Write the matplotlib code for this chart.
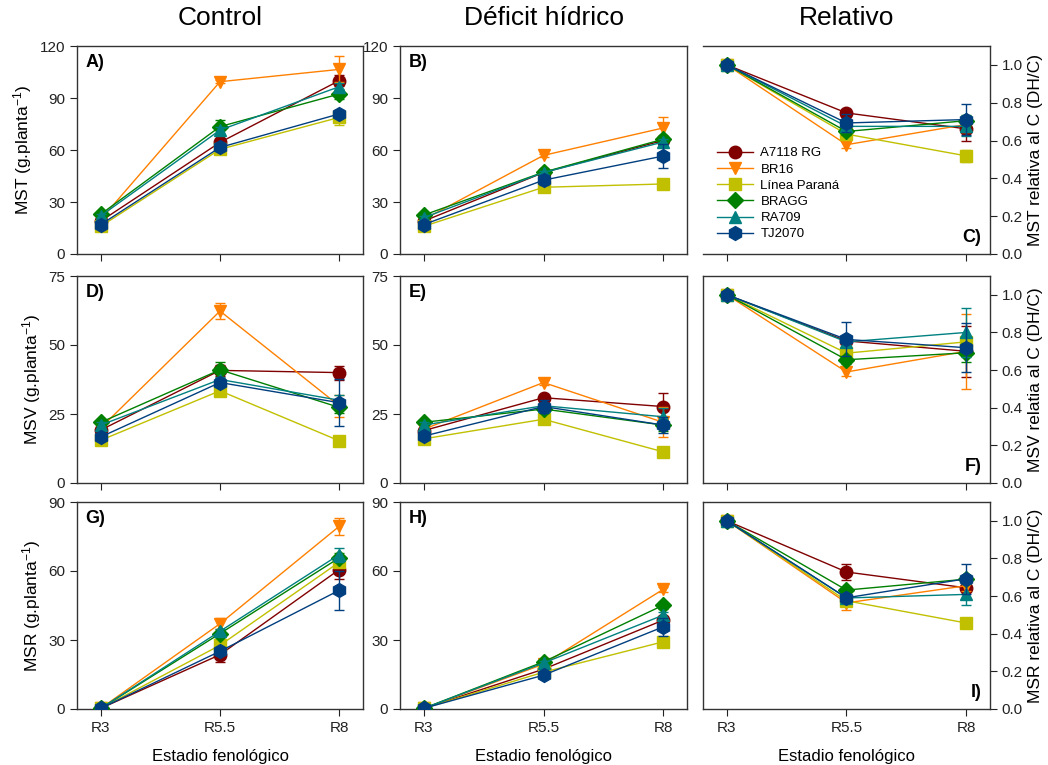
import matplotlib.pyplot as plt
from matplotlib.ticker import FormatStrFormatter

plt.rcParams['font.family'] = ['Liberation Sans', 'DejaVu Sans']
plt.rcParams['mathtext.default'] = 'regular'

stages = ['R3', 'R5.5', 'R8']
cultivars = ['A7118 RG', 'BR16', 'Línea Paraná', 'BRAGG', 'RA709', 'TJ2070']
colors = ['#800000', '#FF8000', '#C0C000', '#008000', '#008080', '#003F7F']
markers = ['o', 'v', 's', 'D', '^', 'h']
msizes = [9, 9, 8.5, 8, 9, 10]

# MST control / deficit / relative (one row per cultivar, R3, R5.5, R8)
mst_c = [[19, 64.4, 100], [20, 99.4, 106.5], [16, 60.4, 78.8],
         [23, 73.5, 92.3], [22, 71.5, 96.5], [17, 61.5, 80.8]]
mst_c_err = [[1, 2, 3], [1, 1, 7.5], [1, 2, 4.5],
             [1, 4, 3], [1, 2, 2], [1, 2, 2]]
mst_d = [[19, 47, 65.5], [20, 56.9, 72.7], [16, 38.5, 40.4],
         [22.5, 47.2, 66.2], [21, 47, 64.6], [17, 42.6, 56.5]]
mst_d_err = [[1, 1, 2], [1, 1, 6.6], [1, 1, 1],
             [1, 1, 2], [1, 1, 2], [1, 3, 7]]
mst_r = [[1, 0.746, 0.662], [1, 0.578, 0.685], [1, 0.634, 0.519],
         [1, 0.648, 0.705], [1, 0.675, 0.675], [1, 0.693, 0.711]]
mst_r_err = [[0, 0.02, 0.065], [0, 0.015, 0.04], [0, 0.015, 0.03],
             [0, 0.02, 0.03], [0, 0.02, 0.05], [0, 0.05, 0.08]]

# MSV
msv_c = [[19.2, 40.8, 40], [20, 62.3, 28], [15.5, 33.4, 15.3],
         [22, 41, 27.4], [21, 37.5, 30], [16.7, 36.4, 29.1]]
msv_c_err = [[1, 2, 2.5], [1, 3, 4], [0.5, 1, 0.5],
             [1, 3, 2], [1, 1, 2], [1, 1.5, 8.5]]
msv_d = [[19, 30.9, 27.7], [19.5, 36.4, 22], [16, 23.1, 11.3],
         [22, 26.8, 21], [21, 28, 24], [17, 27.7, 21]]
msv_d_err = [[1, 1, 4.8], [1, 1, 5.5], [0.5, 1, 0.5],
             [1, 1, 2], [1, 1, 3], [1, 2.5, 3]]
msv_r = [[1, 0.755, 0.70], [1, 0.59, 0.70], [1, 0.69, 0.75],
         [1, 0.655, 0.692], [1, 0.75, 0.80], [1, 0.763, 0.719]]
msv_r_err = [[0, 0.02, 0.135], [0, 0.02, 0.20], [0, 0.04, 0.02],
             [0, 0.02, 0.05], [0, 0.02, 0.13], [0, 0.09, 0.13]]

# MSR
msr_c = [[0.3, 23.6, 60.6], [0.3, 37.1, 79.4], [0.3, 27.7, 63.8],
         [0.3, 32.8, 65.7], [0.3, 33.8, 67.1], [0.3, 25.1, 51.6]]
msr_c_err = [[0, 3, 4], [0, 2.5, 3.6], [0, 1, 2],
             [0, 1, 2], [0, 1, 3], [0, 1.5, 8.4]]
msr_d = [[0.3, 17.3, 38.6], [0.3, 19.5, 52], [0.3, 16, 29.2],
         [0.3, 20.5, 45.1], [0.3, 20, 40.8], [0.3, 14.7, 35.7]]
msr_d_err = [[0, 1, 2], [0, 1, 1], [0, 0.5, 1],
             [0, 1, 1.5], [0, 1, 1.5], [0, 1, 4]]
msr_r = [[1, 0.728, 0.644], [1, 0.564, 0.655], [1, 0.575, 0.457],
         [1, 0.632, 0.69], [1, 0.59, 0.609], [1, 0.591, 0.692]]
msr_r_err = [[0, 0.04, 0.02], [0, 0.04, 0.03], [0, 0.01, 0.01],
             [0, 0.015, 0.02], [0, 0.02, 0.055], [0, 0.02, 0.08]]

panels = [
    [(mst_c, mst_c_err), (mst_d, mst_d_err), (mst_r, mst_r_err)],
    [(msv_c, msv_c_err), (msv_d, msv_d_err), (msv_r, msv_r_err)],
    [(msr_c, msr_c_err), (msr_d, msr_d_err), (msr_r, msr_r_err)],
]
letters = [['A)', 'B)', 'C)'], ['D)', 'E)', 'F)'], ['G)', 'H)', 'I)']]
left_labels = ['MST (g.planta$^{-1}$)', 'MSV (g.planta$^{-1}$)', 'MSR (g.planta$^{-1}$)']
right_labels = ['MST relativa al C (DH/C)', 'MSV relatia al C (DH/C)', 'MSR relativa al C (DH/C)']
ymax = [120, 75, 90]
ystep = [30, 25, 30]
titles = ['Control', 'Déficit hídrico', 'Relativo']

W, H = 1048, 765
cols = [(77, 363), (400, 687), (703, 990)]
rows = [(46, 254), (276, 483), (502, 709)]

fig = plt.figure(figsize=(W / 100, H / 100), dpi=100)
x = list(range(len(stages)))

for i, (top, bot) in enumerate(rows):
    for j, (lft, rgt) in enumerate(cols):
        ax = fig.add_axes([lft / W, 1 - bot / H, (rgt - lft) / W, (bot - top) / H])
        vals, errs = panels[i][j]
        for k in range(len(cultivars)):
            ax.errorbar(x, vals[k], yerr=errs[k], fmt='none', ecolor=colors[k],
                        elinewidth=1, capsize=3.5, capthick=1, zorder=2 + k)
            ax.plot(x, vals[k], color=colors[k], marker=markers[k], ms=msizes[k],
                    lw=1, label=cultivars[k], zorder=2 + k)
        ax.set_xlim(-0.2, 2.2)
        ax.set_xticks(x)
        ax.tick_params(direction='out', length=5, labelsize=11, colors='#222222')
        for s in ax.spines.values():
            s.set_linewidth(1)
            s.set_color('#333333')
        if i == 2:
            ax.set_xticklabels(stages)
            ax.set_xlabel('Estadio fenológico', fontsize=12, labelpad=10)
        else:
            ax.set_xticklabels([])
        if j < 2:
            ax.set_ylim(0, ymax[i])
            ax.set_yticks(range(0, ymax[i] + 1, ystep[i]))
            if j == 0:
                ax.set_ylabel(left_labels[i], fontsize=12.5)
            ax.text(0.03, 0.96, letters[i][j], transform=ax.transAxes,
                    fontsize=13, fontweight='bold', va='top', ha='left')
        else:
            ax.set_ylim(0, 1.1)
            ax.set_yticks([0, 0.2, 0.4, 0.6, 0.8, 1.0])
            ax.yaxis.set_major_formatter(FormatStrFormatter('%.1f'))
            ax.yaxis.tick_right()
            ax.yaxis.set_label_position('right')
            ax.set_ylabel(right_labels[i], fontsize=12.5)
            ax.text(0.97, 0.04, letters[i][j], transform=ax.transAxes,
                    fontsize=13, fontweight='bold', va='bottom', ha='right')
            if i == 0:
                ax.spines['left'].set_visible(False)
                ax.legend(loc='lower left', bbox_to_anchor=(0.03, 0.04),
                          frameon=False, fontsize=9.5, handlelength=2.7,
                          handletextpad=0.6, labelspacing=0.3, borderaxespad=0)

for (lft, rgt), t in zip(cols, titles):
    fig.text((lft + rgt) / 2 / W, 1 - 18 / H, t, fontsize=19, ha='center', va='center')

fig.savefig('out.png', dpi=100)
